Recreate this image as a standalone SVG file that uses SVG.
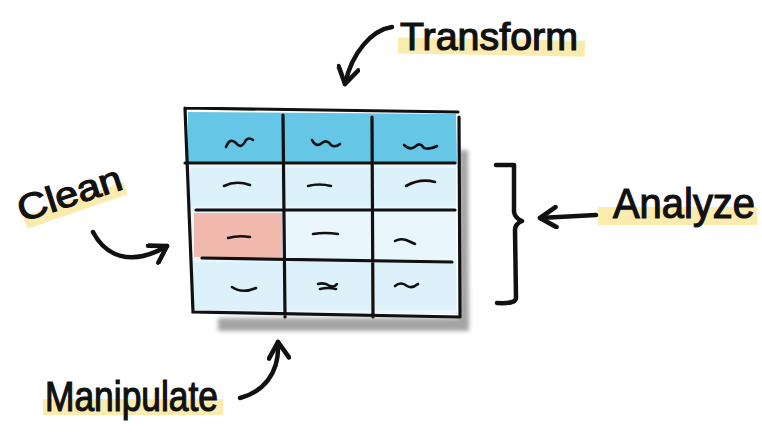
<svg xmlns="http://www.w3.org/2000/svg" width="762" height="437" viewBox="0 0 762 437">
<style>
.lbl{font-family:"Liberation Sans","DejaVu Sans",sans-serif;fill:#111;stroke:#111;stroke-width:1.2}
.hl{fill:#fbe7a1;opacity:0.85}
.grid{fill:none;stroke:#111;stroke-width:3.2;stroke-linecap:round}
.sq{fill:none;stroke:#111;stroke-width:2.6;stroke-linecap:round}
.con{fill:none;stroke:#111;stroke-width:4.5;stroke-linecap:round;stroke-linejoin:round}
</style>
<defs>
<marker id="head" viewBox="0 0 12 12" refX="10" refY="6" markerWidth="24" markerHeight="24" markerUnits="userSpaceOnUse" orient="auto">
<path d="M2,1 L10,6 L2,11" fill="none" stroke="#111" stroke-width="2.3" stroke-linecap="round" stroke-linejoin="round"/>
</marker>
<filter id="blur" x="-10%" y="-10%" width="120%" height="120%"><feGaussianBlur stdDeviation="2"/></filter>
</defs>
<rect width="762" height="437" fill="#fff"/>

<g id="table">
<polygon points="459,150 468,150 469,331 218,331 218,318 459,318" fill="#a4a4a4" filter="url(#blur)"/>
<polygon points="185,108 458,112 460,317 193,312" fill="#fff"/>
<polygon points="188,112 456,114 457,163 188,163" fill="#66c6e5"/>
<polygon points="189,165 456,165 457,314 194,311" fill="#e9f6fc"/>
<rect x="190" y="168" width="266" height="38" fill="#ddf1fa"/>
<rect x="192" y="262" width="264" height="48" fill="#ddf1fa"/>
<rect x="194" y="213" width="88" height="44" fill="#f1b8ae"/>
<path class="grid" d="M185,108 L458,112 M459,117 L460,317 M185,108 L193,312 L460,317 M185,163 L455,163 M196,210 L455,210 M202,258 L452,262 M283,115 L285,317 M372,117 L373,317"/>
<path class="sq" d="M226,147 Q230,137 236,143 Q241,150 246,140 Q249,137 253,140"/>
<path class="sq" d="M312,140 Q316,148 322,143 Q327,139 331,145 Q335,148 340,144"/>
<path class="sq" d="M404,145 Q410,151 416,146 Q420,142 424,148 Q430,150 437,146"/>
<path class="sq" d="M224,186 Q236,180 250,185"/>
<path class="sq" d="M308,186 Q319,183 331,186"/>
<path class="sq" d="M406,186 Q420,178 435,182"/>
<path class="sq" d="M228,238 Q238,235 250,237"/>
<path class="sq" d="M313,234 Q325,232 338,234"/>
<path class="sq" d="M395,241 Q400,238 406,240 Q411,242 415,244"/>
<path class="sq" d="M232,287 Q242,294 256,288"/>
<path class="sq" d="M318,284 Q324,282 330,286 Q334,288 337,284 M320,289 Q328,287 336,289"/>
<path class="sq" d="M395,286 Q401,281 407,286 Q412,289 418,284"/>
</g>

<g id="label-transform">
<rect class="hl" x="398" y="39" width="187" height="16" transform="rotate(1 490 45)"/>
<text class="lbl" x="400" y="50" font-size="38" textLength="178" lengthAdjust="spacingAndGlyphs">Transform</text>
</g>

<g id="label-clean">
<rect class="hl" x="22" y="199" width="106" height="13" transform="rotate(-19 75 204)"/>
<text class="lbl" x="22" y="222" font-size="36" textLength="108" lengthAdjust="spacingAndGlyphs" transform="rotate(-18 22 222)">Clean</text>
</g>

<g id="label-analyze">
<rect class="hl" x="598" y="207" width="159" height="18"/>
<text class="lbl" x="613" y="218" font-size="42" textLength="142" lengthAdjust="spacingAndGlyphs">Analyze</text>
</g>

<g id="label-manipulate">
<rect class="hl" x="43" y="399" width="180" height="16"/>
<text class="lbl" x="45" y="411" font-size="42" textLength="173" lengthAdjust="spacingAndGlyphs">Manipulate</text>
</g>

<g id="bracket">
<path class="con" d="M496,165 L514,165 L514,212 Q515,218 522,221 Q515,224 515,230 L516,298 Q516,304 497,303"/>
</g>

<g id="connectors">
<path class="con" d="M392,27 C372,30 352,52 345,84" marker-end="url(#head)"/>
<path class="con" d="M93,232 C105,255 130,268 167,246" marker-end="url(#head)"/>
<path class="con" d="M596,215 L540,218" marker-end="url(#head)"/>
<path class="con" d="M240,398 C262,392 280,375 278,342" marker-end="url(#head)"/>
</g>
</svg>
